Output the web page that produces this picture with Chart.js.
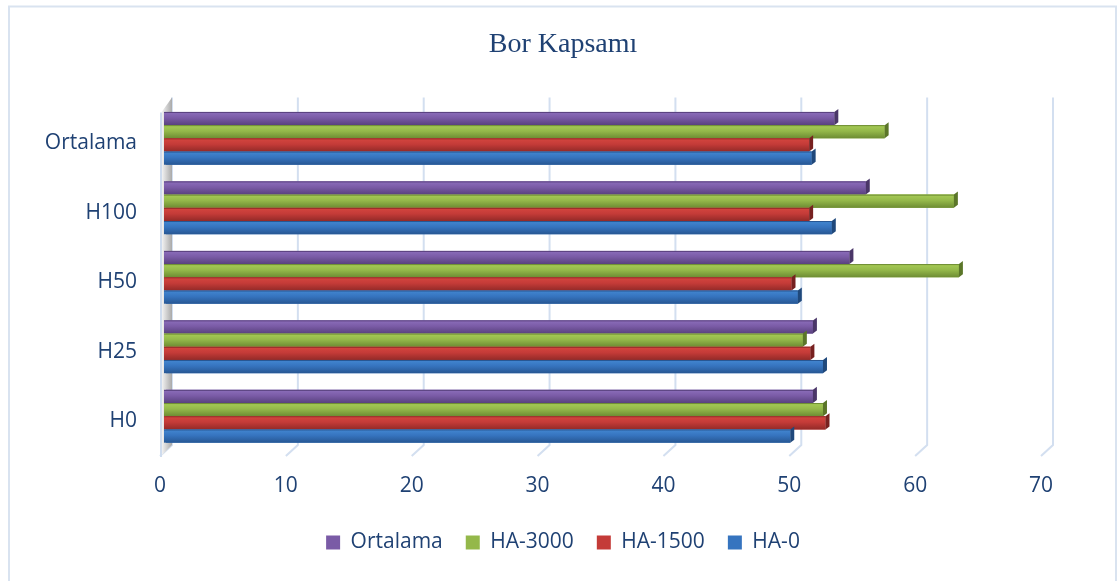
<!DOCTYPE html>
<html><head><meta charset="utf-8">
<script src="https://cdn.jsdelivr.net/npm/chart.js@4/dist/chart.umd.min.js"></script>
<style>html,body{margin:0;padding:0;background:#fff;}#wrap{width:1118px;height:581px;position:relative;}</style>
</head><body><div id="wrap"><canvas id="c" width="1118" height="581"></canvas></div>
<script>
const categories = ['Ortalama', 'H100', 'H50', 'H25', 'H0'];
const seriesNames = ['Ortalama', 'HA-3000', 'HA-1500', 'HA-0'];
const ortalamaValues = [53.1, 55.6, 54.3, 51.4, 51.4];
const ha3000Values = [57.1, 62.6, 63.0, 50.6, 52.2];
const ha1500Values = [51.1, 51.1, 49.7, 51.2, 52.4];
const ha0Values = [51.3, 52.9, 50.2, 52.2, 49.6];
const xTickValues = [0, 10, 20, 30, 40, 50, 60, 70];
const titleText = 'Bor Kapsamı';

const shades = [
  {light:'#8c6ebb', mid:'#7a5ba6', dark:'#59417e', side:'#4a3668'},
  {light:'#a7cc56', mid:'#94b84a', dark:'#6d8c33', side:'#5b7629'},
  {light:'#d5463f', mid:'#c43b38', dark:'#932a28', side:'#772120'},
  {light:'#4387d1', mid:'#3674bf', dark:'#275793', side:'#1f487b'}
];
const textColor = '#1f4173';
Chart.defaults.font.family = "'Open Sans', sans-serif";

const deco = {
  id: 'deco',
  beforeDraw(chart) {
    const ctx = chart.ctx;
    ctx.save();
    ctx.fillStyle = '#fff';
    ctx.fillRect(0, 0, chart.width, chart.height);
    ctx.strokeStyle = '#d9e3f0';
    ctx.lineWidth = 2;
    ctx.strokeRect(9, 6.5, 1107, 600);
    ctx.restore();
  },
  beforeDatasetsDraw(chart) {
    const {ctx, chartArea: {top, bottom}, scales: {x}} = chart;
    ctx.save();
    ctx.strokeStyle = '#d3dff0';
    ctx.lineWidth = 2;
    x.ticks.forEach(t => {
      const px = x.getPixelForValue(t.value);
      ctx.beginPath();
      ctx.moveTo(px - 6, bottom + 5);
      ctx.lineTo(px + 6, bottom - 6);
      ctx.lineTo(px + 6, top - 6);
      ctx.stroke();
    });
    const p0 = x.getPixelForValue(0);
    const g = ctx.createLinearGradient(p0 - 4, 0, p0 + 6, 0);
    g.addColorStop(0, '#f2f2f2');
    g.addColorStop(1, '#a9a9a9');
    ctx.fillStyle = g;
    ctx.beginPath();
    ctx.moveTo(p0 - 4, top + 8);
    ctx.lineTo(p0 + 6, top - 6);
    ctx.lineTo(p0 + 6, bottom - 6);
    ctx.lineTo(p0 - 4, bottom + 4);
    ctx.closePath();
    ctx.fill();
    ctx.strokeStyle = '#cfdcee';
    ctx.beginPath();
    ctx.moveTo(p0 - 5, top + 9);
    ctx.lineTo(p0 - 5, bottom + 6);
    ctx.stroke();
    ctx.restore();
  },
  afterDatasetsDraw(chart) {
    const ctx = chart.ctx;
    ctx.save();
    chart.data.datasets.forEach((ds, i) => {
      const meta = chart.getDatasetMeta(i);
      if (meta.hidden) return;
      const s = shades[i];
      meta.data.forEach(el => {
        const {x, y, base, height} = el.getProps(['x', 'y', 'base', 'height'], true);
        const t = y - height / 2, b = y + height / 2;
        const left = Math.min(x, base) - 2, right = Math.max(x, base);
        const g = ctx.createLinearGradient(0, t, 0, b);
        g.addColorStop(0, s.light);
        g.addColorStop(0.45, s.mid);
        g.addColorStop(1, s.dark);
        ctx.fillStyle = g;
        ctx.fillRect(left, t, right - left, height);
        ctx.fillStyle = s.dark;
        ctx.fillRect(left, t, right - left, 1);
        ctx.fillStyle = s.side;
        ctx.beginPath();
        ctx.moveTo(right, t);
        ctx.lineTo(right + 4, t - 3);
        ctx.lineTo(right + 4, b - 3);
        ctx.lineTo(right, b);
        ctx.closePath();
        ctx.fill();
      });
    });
    ctx.restore();
  }
};

const seriesValues = [ortalamaValues, ha3000Values, ha1500Values, ha0Values];
new Chart(document.getElementById('c'), {
  type: 'bar',
  data: {
    labels: categories,
    datasets: seriesNames.map((n, i) => ({
      label: n,
      data: seriesValues[i],
      backgroundColor: shades[i].mid,
      borderWidth: 0,
      categoryPercentage: 0.76,
      barPercentage: 1.0
    }))
  },
  options: {
    indexAxis: 'y',
    responsive: false,
    animation: false,
    devicePixelRatio: 1,
    layout: {padding: {top: 0, left: 14, right: 6, bottom: 18}},
    plugins: {
      title: {
        display: true, text: titleText, color: textColor,
        font: {family: "'Liberation Serif', 'Times New Roman', serif", size: 28, weight: 'normal'},
        padding: {top: 28, bottom: 42}
      },
      legend: {
        position: 'bottom',
        labels: {color: textColor, font: {size: 21}, boxWidth: 14, boxHeight: 14, padding: 23}
      },
      tooltip: {enabled: false}
    },
    scales: {
      x: {
        min: 0, max: 70,
        afterBuildTicks: s => { s.ticks = xTickValues.map(v => ({value: v})); },
        afterFit: s => { s.height = 58; },
        grid: {display: false, drawTicks: false},
        border: {display: false},
        ticks: {color: textColor, font: {size: 21}, padding: 22, labelOffset: -6}
      },
      y: {
        afterFit: s => { s.width = 152; },
        grid: {display: false, drawTicks: false},
        border: {display: false},
        ticks: {color: textColor, font: {size: 21}, padding: 29, labelOffset: 5}
      },
      y2: {
        type: 'linear', position: 'right', display: true,
        afterFit: s => { s.width = 65; },
        grid: {display: false, drawTicks: false},
        border: {display: false},
        ticks: {display: false}
      }
    }
  },
  plugins: [deco]
});
</script></body></html>
